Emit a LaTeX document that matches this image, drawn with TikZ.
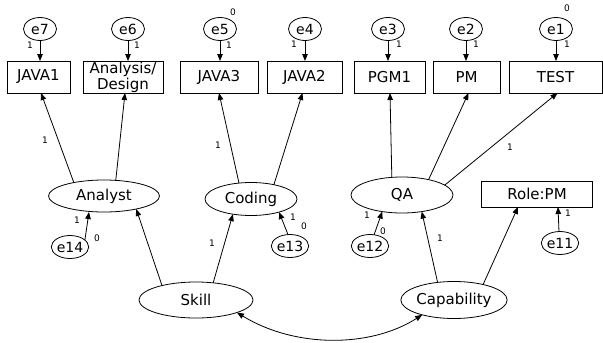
\documentclass[tikz,border=0pt]{standalone}
\usepackage{fontspec}
\setmainfont{DejaVu Sans}
\usetikzlibrary{arrows.meta,shapes.geometric}
\begin{document}
\begin{tikzpicture}[x=1pt,y=-1pt,
  every node/.style={inner sep=0pt, outer sep=0pt},
  obs/.style={draw, rectangle, minimum height=32pt, font=\fontsize{15}{17}\selectfont, align=center},
  lat/.style={draw, ellipse, font=\fontsize{15}{17}\selectfont},
  err/.style={draw, ellipse, minimum width=33pt, minimum height=23pt, font=\fontsize{14}{16}\selectfont},
  lbl/.style={font=\fontsize{9}{9}\selectfont},
  arr/.style={-{Triangle[length=7pt,width=5.5pt]}},
  dbl/.style={{Triangle[length=7pt,width=5.5pt]}-{Triangle[length=7pt,width=5.5pt]}},
  line width=0.8pt]
\useasboundingbox (0,0) rectangle (603,343);
% observed boxes
\node[obs, minimum width=63pt] (JAVA1) at (38.5,77) {JAVA1};
\node[obs, minimum width=80pt, font=\fontsize{15}{16}\selectfont] (AD) at (123,77) {Analysis/\\Design};
\node[obs, minimum width=78pt] (JAVA3) at (219,77) {JAVA3};
\node[obs, minimum width=75pt] (JAVA2) at (304.5,77) {JAVA2};
\node[obs, minimum width=71pt] (PGM1) at (389.5,77) {PGM1};
\node[obs, minimum width=67pt] (PM) at (466.5,77) {PM};
\node[obs, minimum width=93pt] (TEST) at (555.5,77) {TEST};
\node[obs, minimum width=111pt, minimum height=26pt] (Role) at (537,194) {Role:PM};
% top errors
\node[err] (e7) at (40,29) {e7};
\node[err] (e6) at (128,29) {e6};
\node[err] (e5) at (220,29) {e5};
\node[err] (e4) at (305,29) {e4};
\node[err] (e3) at (388,29) {e3};
\node[err] (e2) at (466,29) {e2};
\node[err] (e1) at (556,29) {e1};
% latents
\node[lat, minimum width=111pt, minimum height=32pt] (Analyst) at (104,196) {Analyst};
\node[lat, minimum width=92pt, minimum height=33pt] (Coding) at (251,199) {Coding};
\node[lat, minimum width=102pt, minimum height=36pt] (QA) at (402,195) {QA};
\node[lat, minimum width=114pt, minimum height=36pt] (Skill) at (196,300) {Skill};
\node[lat, minimum width=102pt, minimum height=37pt] (Cap) at (454,300) {Capability};
% lower errors
\node[err, minimum width=34pt] (e14) at (70,247) {e14};
\node[err, minimum width=34pt] (e13) at (290,246) {e13};
\node[err, minimum width=34pt] (e12) at (370,246) {e12};
\node[err, minimum width=34pt] (e11) at (560,243) {e11};
% error arrows (top)
\foreach \e/\b in {e7/JAVA1,e6/AD,e5/JAVA3,e4/JAVA2,e3/PGM1,e2/PM,e1/TEST}
  \draw[arr] (\e.south) -- (\e.south |- \b.north);
% latent to indicators
\draw[arr] (Analyst.156) -- ([xshift=2.5pt]JAVA1.south);
\draw[arr] (Analyst.53) -- ([xshift=2pt]AD.south);
\draw[arr] (Coding.127) -- (JAVA3.south);
\draw[arr] (Coding.32) -- ([xshift=-2pt]JAVA2.south);
\draw[arr] (QA.120) -- ([xshift=0.5pt]PGM1.south);
\draw[arr] (QA.30) -- ([xshift=2pt]PM.south);
\draw[arr] (QA.13) -- ([xshift=2pt]TEST.south);
% second order
\draw[arr] (Skill.157) -- (Analyst.-22);
\draw[arr] (Skill.45) -- (Coding.220);
\draw[arr] (Cap.133) -- (QA.-40);
\draw[arr] (Cap.28) -- ([xshift=-19pt]Role.south);
% lower errors
\draw[arr] (e14.25) -- ([xshift=-15pt]Analyst.south);
\draw[arr] (e13.100) -- (Coding.-25);
\draw[arr] (e12.70) -- (QA.220);
\draw[arr] (e11.95) -- ([xshift=21pt]Role.south);
% covariance
\draw[dbl] (Skill.-17) .. controls (295,348) and (370,348) .. (Cap.205);
% labels
\node[lbl] (l7) at (30,45) {1};
\node[lbl] (l6) at (137,45) {1};
\node[lbl] (l5) at (229,45) {1};
\node[lbl] (z5) at (233,12) {0};
\node[lbl] (l4) at (294,44) {1};
\node[lbl] (l3) at (399,44) {1};
\node[lbl] (l2) at (476,44) {1};
\node[lbl] (l1) at (567,44) {1};
\node[lbl] (z1) at (567,8) {0};
\node[lbl] (pa) at (45,140) {1};
\node[lbl] (pc) at (218,145) {1};
\node[lbl] (pq) at (510,147) {1};
\node[lbl] (ps) at (212,243) {1};
\node[lbl] (pk) at (440,238) {1};
\node[lbl] (l14) at (77,220) {1};
\node[lbl] (z14) at (97,238) {0};
\node[lbl] (l13) at (293,217) {1};
\node[lbl] (z13) at (304,226) {0};
\node[lbl] (l12) at (367,215) {1};
\node[lbl] (z12) at (383,231) {0};
\node[lbl] (l11) at (568,213) {1};
\end{tikzpicture}
\end{document}
